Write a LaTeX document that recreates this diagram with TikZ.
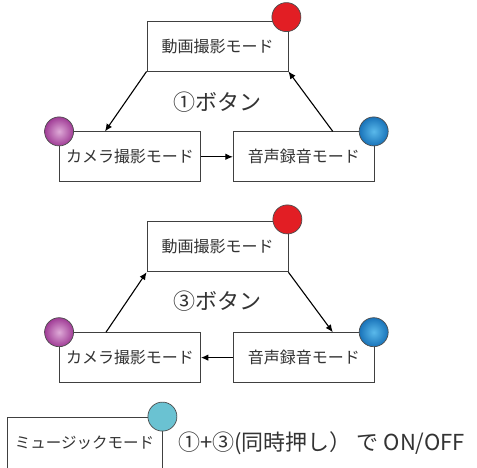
\documentclass[tikz,border=0pt]{standalone}
\usepackage{fontspec}
\setmainfont{Noto Sans CJK JP}
\usepackage{tikz}
\usetikzlibrary{shapes,arrows,arrows.meta,positioning}
\definecolor{txtgray}{HTML}{333333}
\tikzstyle{mode} = [rectangle, draw=black!75, line width=0.8pt, fill=white, text=txtgray,
minimum width=141pt, minimum height=50pt, inner sep=0pt, font=\fontsize{16}{18}\selectfont]
\tikzstyle{ball} = [circle, draw=black!70, line width=0.7pt, minimum size=29pt, inner sep=0pt]
\tikzstyle{redball} = [ball, fill={rgb,255:red,226;green,30;blue,36}]
\tikzstyle{purpleball} = [ball, inner color={rgb,255:red,222;green,170;blue,215}, outer color={rgb,255:red,160;green,60;blue,150}]
\tikzstyle{blueball} = [ball, inner color={rgb,255:red,90;green,185;blue,235}, outer color={rgb,255:red,25;green,115;blue,185}]
\tikzstyle{tealball} = [ball, fill={rgb,255:red,106;green,194;blue,210}]
\tikzstyle{btn} = [text=txtgray, font=\fontsize{22}{24}\selectfont, inner sep=0pt]
\tikzstyle{tedge}  = [draw, line width=1.1pt, >={Latex[length=7.5pt,width=6.5pt]}, ->]

\begin{document}
\begin{tikzpicture}[x=1pt, y=-1pt]
\clip (0,0) rectangle (477,467);
\fill[white] (0,0) rectangle (477,467);

% ①ボタン =============================
\node[mode] (rec) at (217.5,46) {動画撮影モード};
\node[mode, below=60pt of rec, xshift=-87.5pt] (cam) {カメラ撮影モード};
\node[mode, right=32pt of cam] (aud) {音声録音モード};
\node[btn] (btn1) at (217,102) {①ボタン};

\node[redball] (r1) at ([xshift=-2pt,yshift=3.5pt]rec.north east) {};
\node[purpleball] (p1) at (cam.north west) {};
\node[blueball] (b1) at ([xshift=-1pt]aud.north east) {};

% edges
\path[tedge] (rec.south west) -- ([xshift=-25pt]cam.north);
\path[tedge] (cam) -- (aud);
\path[tedge] ([xshift=29pt]aud.north) -- (rec.south east);

% ③ボタン =============================
\node[mode, below=150pt of rec] (rec2) {動画撮影モード};
\node[mode, below=60pt of rec2, xshift=-87.5pt] (cam2) {カメラ撮影モード};
\node[mode, right=32pt of cam2] (aud2) {音声録音モード};
\node[btn] (btn3) at (217,301) {③ボタン};

\node[redball] (r2) at ([xshift=-1pt,yshift=2pt]rec2.north east) {};
\node[purpleball] (p2) at (cam2.north west) {};
\node[blueball] (b2) at ([xshift=-1pt]aud2.north east) {};

% edges
\path[tedge] ([xshift=-24pt]cam2.north) -- (rec2.south west);
\path[tedge] (rec2.south east) -- ([xshift=29pt]aud2.north);
\path[tedge] (aud2) -- (cam2);

% music mode
\node[mode, minimum width=155pt, minimum height=52pt, font=\fontsize{15.5}{17}\selectfont] (music) at (84.5,443) {ミュージックモード};
\node[tealball] (t1) at (music.north east) {};
\node[btn, anchor=west, font=\fontsize{22}{24}\selectfont] (onoff) at (178,443) {①+③(同時押し） で ON/OFF};

\end{tikzpicture}
\end{document}
